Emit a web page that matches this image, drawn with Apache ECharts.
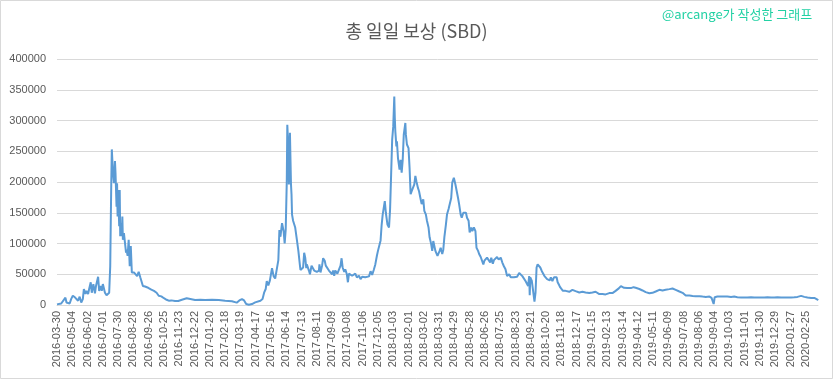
<!DOCTYPE html>
<html>
<head>
<meta charset="utf-8">
<script src="https://cdn.jsdelivr.net/npm/echarts@6/dist/echarts.min.js"></script>
<style>
html,body{margin:0;padding:0;background:#fff;}
#chart{width:833px;height:379px;}
</style>
</head>
<body>
<div id="chart"></div>
<script>
// ---- Data ----
const chartTitle = '총 일일 보상 (SBD)';
const watermark = '@arcange가 작성한 그래프';
const firstDate = '2016-03-30';
const secondDate = '2016-04-06';
const categoryCount = 1445;
const labelEvery = 29;
const yTicks = [0, 50000, 100000, 150000, 200000, 250000, 300000, 350000, 400000];

// category index of each read point
const pointIndex = [
0,8,16,18,21,24,27,30,34,37,40,43,46,49,51,54,56,59,61,64,66,69,72,74,78,80,83,85,87,91,94,97,99,
101,102,103,104,106,108,109,110,111,113,114,115,116,118,119,120,122,123,124,125,127,129,131,132,134,136,138,140,142,144,146,149,
152,155,158,160,163,167,170,173,176,179,184,189,193,198,203,208,212,217,220,224,230,
237,246,253,262,272,281,294,307,319,332,341,346,351,355,359,364,370,376,386,390,393,396,398,
401,404,408,411,414,417,420,422,424,427,430,432,434,436,437,439,440,441,442,444,445,446,448,450,452,455,457,458,461,462,465,467,469,471,473,474,478,480,483,485,488,490,493,497,498,
500,503,505,508,510,513,516,519,522,524,526,528,532,535,538,540,542,545,547,550,552,554,557,560,563,566,569,573,576,579,582,585,588,592,595,598,
601,604,607,609,611,614,616,618,620,622,624,627,630,632,634,636,638,640,641,642,644,645,647,650,652,654,656,658,661,662,664,667,669,671,673,676,678,680,682,685,687,690,692,695,697,
700,702,705,707,710,712,714,716,718,720,722,724,726,728,731,733,735,738,740,743,745,748,750,753,756,758,761,763,766,768,771,773,776,778,781,783,786,788,791,794,796,799,
801,804,806,809,811,814,816,819,822,824,827,829,832,835,838,842,845,848,851,854,858,861,864,867,870,873,877,880,883,886,889,892,894,896,897,898,
901,903,906,908,910,912,915,917,920,922,925,927,930,932,935,937,940,943,945,948,950,953,955,958,960,963,965,972,978,984,991,997,
1003,1010,1016,1022,1029,1035,1041,1048,1054,1060,1066,1070,1076,1082,1089,1094,1098,
1105,1111,1117,1124,1130,1136,1143,1149,1155,1162,1168,1174,1181,1187,1193,1200,1206,1212,1219,1225,1231,1238,1242,1246,1248,
1253,1260,1266,1272,1279,1285,1291,1298,1304,1310,1317,1323,1329,1336,1342,1348,1355,1361,1367,1374,1380,1386,1393,1399,
1405,1412,1418,1424,1431,1437,1443,1444
];

// total daily reward (SBD) read at those indices
const dailyReward = [
1000,2500,12000,4000,5000,2500,10000,15000,12500,14000,7000,13500,4000,9500,26000,18000,23000,18000,26000,37000,20000,34000,19000,31000,46000,23000,31000,23000,34000,20000,16000,15000,20000,
63000,133000,200000,253000,219000,198000,215000,234000,215000,160000,198000,144000,187000,128000,187000,112000,133000,112000,144000,106000,117000,101000,85000,90000,80000,106000,63000,96000,53000,55000,53000,50000,
47000,54000,45000,46000,31000,30000,27000,28000,26000,25000,23000,20000,15000,14000,11000,8500,7000,7500,8500,6500,6500,
8600,11000,9700,8000,8600,8000,8600,8000,7000,6000,3800,7500,9700,7500,1600,500,1600,4300,7000,9700,20000,26000,39000,
32000,40000,60000,47000,43000,40000,73000,122000,111000,133000,120000,100000,123000,201000,293000,255000,196000,245000,280000,196000,180000,147000,137000,134000,126000,107000,110000,88000,64000,57000,58000,61000,85000,77000,60000,66000,56000,50000,64000,64000,56000,58000,54000,56000,66000,
53000,64000,76000,72000,64000,61000,56000,58000,50000,56000,47500,56000,51000,50000,64000,76000,61000,54000,58000,50000,37000,51000,49000,47500,45000,51000,45000,47500,42000,46000,44000,45000,45000,46500,55000,49000,
57000,66000,80000,88000,91000,105000,130000,147000,145000,169000,150000,131000,126000,155000,212000,269000,290000,339000,304000,282000,258000,266000,239000,220000,236000,215000,236000,277000,296000,277000,261000,255000,223000,180000,185000,185000,196000,210000,201000,190000,185000,172000,164000,172000,153000,
147000,137000,126000,110000,99000,88000,104000,96000,88000,85000,80000,77000,88000,93000,83000,90000,110000,131000,147000,156000,158000,174000,199000,207000,196000,193000,174000,164000,147000,142000,150000,153000,150000,142000,137000,118000,126000,120000,126000,120000,93000,88000,
83000,78000,77000,66000,72000,69000,77000,74000,69000,77000,67000,73000,74000,78000,74000,77000,69000,63000,58000,47000,50000,45000,48000,45000,47000,46000,52000,53000,47000,45000,39000,37000,31000,47000,16000,45000,
39000,26000,5400,20000,61000,66000,63000,61000,55000,53000,47000,46000,42000,45000,40000,45000,39000,45000,42000,45000,37000,32000,28500,26000,23000,22000,23000,21500,24700,22500,20400,21500,
20400,19400,20400,21500,17700,17700,17200,19400,19400,23000,27000,30700,28000,27500,27500,29000,28000,
26000,23600,20900,19200,19800,22000,24700,23600,24700,25800,26900,24700,22000,19800,15400,15400,14800,14300,14300,13700,13200,13700,11500,1600,12600,
13700,13700,13700,13700,13200,13700,12600,12100,12100,12100,12600,12100,12100,12100,12100,12600,12100,12100,12600,12100,12100,12100,12100,12600,
13200,14800,13200,12100,11500,11500,8800,7500
];

// ---- categories (daily dates; a few days missing right after the first) ----
function fmt(d){
  const m = String(d.getUTCMonth()+1).padStart(2,'0');
  const dd = String(d.getUTCDate()).padStart(2,'0');
  return d.getUTCFullYear()+'-'+m+'-'+dd;
}
const categories = [firstDate];
{
  const d = new Date(secondDate+'T00:00:00Z');
  while (categories.length < categoryCount) {
    categories.push(fmt(d));
    d.setUTCDate(d.getUTCDate()+1);
  }
}
const seriesData = pointIndex.map((i, k) => [i, dailyReward[k]]);

const chart = echarts.init(document.getElementById('chart'), null, {renderer:'canvas'});
chart.setOption({
  animation: false,
  backgroundColor: '#ffffff',
  title: {
    text: chartTitle,
    left: 'center',
    top: 17,
    textStyle: {fontFamily: '"Noto Sans CJK KR", "Noto Sans", sans-serif', fontSize: 18, fontWeight: 'normal', color: '#595959'}
  },
  graphic: [
    {type:'rect', shape:{x:0.5, y:0.5, width:832, height:378}, style:{fill:'none', stroke:'#d9d9d9', lineWidth:1}, silent:true, z:-1},
    {type:'text', left: 662, top: 8, style:{text: watermark, fill:'#22d1a4', font:'13px "Noto Sans CJK KR", sans-serif'}}
  ],
  grid: {left: 57, right: 15, top: 59, bottom: 74, containLabel: false},
  xAxis: {
    type: 'category',
    data: categories,
    boundaryGap: false,
    axisLine: {lineStyle: {color: '#d9d9d9'}},
    axisTick: {show: false},
    axisLabel: {
      rotate: 90, interval: labelEvery - 1, color: '#595959', fontSize: 11, margin: 6,
      fontFamily: '"Liberation Sans", sans-serif'
    },
    splitLine: {show: false}
  },
  yAxis: {
    type: 'value',
    min: yTicks[0],
    max: yTicks[yTicks.length-1],
    interval: yTicks[1]-yTicks[0],
    axisLine: {show: false},
    axisTick: {show: false},
    axisLabel: {color: '#595959', fontSize: 11, margin: 11, fontFamily: '"Liberation Sans", sans-serif',
      formatter: v => String(v)},
    splitLine: {lineStyle: {color: '#d9d9d9', width: 1}}
  },
  series: [{
    type: 'line',
    data: seriesData,
    showSymbol: false,
    symbol: 'none',
    lineStyle: {color: '#5b9bd5', width: 2},
    itemStyle: {color: '#5b9bd5'}
  }]
});
</script>
</body>
</html>
